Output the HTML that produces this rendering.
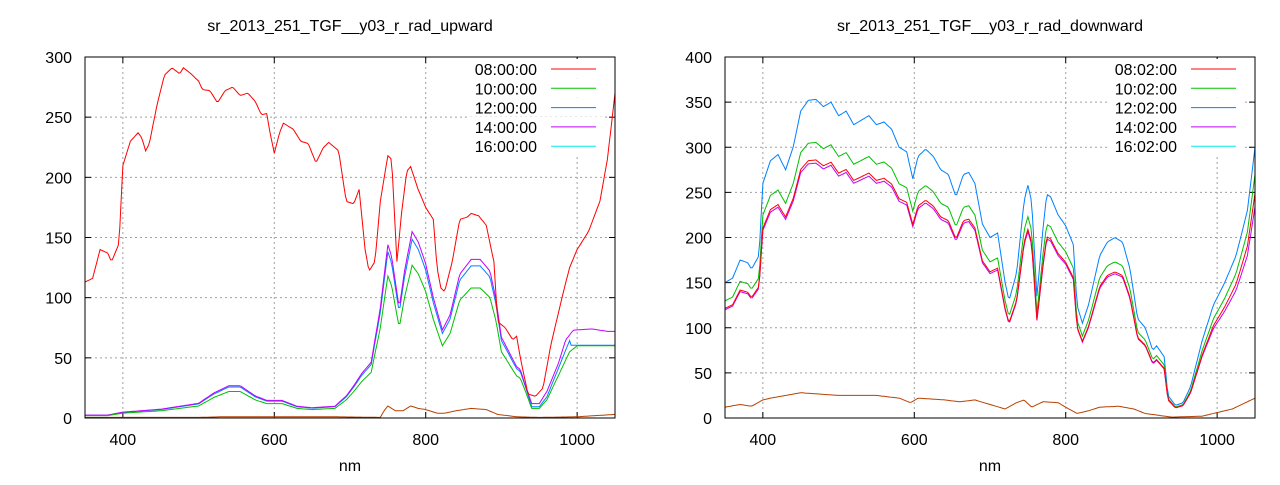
<!DOCTYPE html>
<html><head><meta charset="utf-8"><style>
html,body{margin:0;padding:0;background:#fff}
svg text{font-family:"Liberation Sans",sans-serif;font-size:16px;fill:#000}
</style></head><body>
<svg id="s" width="1280" height="480" xmlns="http://www.w3.org/2000/svg"></svg>
<script>
const S=document.getElementById('s');let h='';
function interp(pts,x){if(x<=pts[0][0])return pts[0][1];for(let i=1;i<pts.length;i++){if(x<=pts[i][0]){const a=pts[i-1],b=pts[i];return a[1]+(b[1]-a[1])*(x-a[0])/(b[0]-a[0]);}}return pts[pts.length-1][1];}
function P(a){const r=[];for(let i=0;i<a.length;i+=2)r.push([a[i],a[i+1]]);return r;}
function plot(x0,x1,y0,y1,ymax,ystep,title,labels,series){
 const sx=v=>x0+(v-350)*(x1-x0)/700, sy=v=>y1-v*(y1-y0)/ymax;
 h+=`<text x="${(x0+x1)/2}" y="31" text-anchor="middle">${title}</text>`;
 h+=`<text x="${(x0+x1)/2}" y="471" text-anchor="middle">nm</text>`;
 for(let v=0;v<=ymax;v+=ystep){const y=sy(v);
  if(v>0&&v<ymax)h+=`<line x1="${x0}" x2="${x1}" y1="${y}" y2="${y}" stroke="#a0a0a0" stroke-dasharray="2,3"/>`;
  h+=`<line x1="${x0}" x2="${x0+6}" y1="${y}" y2="${y}" stroke="#000"/><line x1="${x1-6}" x2="${x1}" y1="${y}" y2="${y}" stroke="#000"/>`;
  h+=`<text x="${x0-13}" y="${y+6}" text-anchor="end">${v}</text>`;}
 for(let v=400;v<=1000;v+=200){const x=sx(v);
  h+=`<line x1="${x}" x2="${x}" y1="${y0}" y2="${y1}" stroke="#a0a0a0" stroke-dasharray="2,3"/>`;
  h+=`<line x1="${x}" x2="${x}" y1="${y1}" y2="${y1-6}" stroke="#000"/><line x1="${x}" x2="${x}" y1="${y0}" y2="${y0+6}" stroke="#000"/>`;
  h+=`<text x="${x}" y="${y1+27}" text-anchor="middle">${v}</text>`;}
 const cols=['#ff0000','#00c000','#0080ff','#c000ff','#00eeee'];
 labels.forEach((l,i)=>{const y=69+i*19.3;h+=`<rect x="${x1-145}" y="${y-10}" width="135" height="19" fill="#fff"/>`;});
 series.forEach(([f,c])=>{let d='';for(let n=350;n<=1050;n+=2){const v=f(n);d+=(n==350?'M':'L')+sx(n).toFixed(1)+','+sy(Math.min(v,ymax)).toFixed(1);}
  h+=`<path d="${d}" fill="none" stroke="${c}" stroke-width="1"/>`;});
 labels.forEach((l,i)=>{const y=69+i*19.3;h+=`<text x="${x1-78}" y="${y+6}" text-anchor="end">${l}</text><line x1="${x1-64}" x2="${x1-19}" y1="${y}" y2="${y}" stroke="${cols[i]}"/>`;});
 h+=`<rect x="${x0}" y="${y0}" width="${x1-x0}" height="${y1-y0}" fill="none" stroke="#000"/>`;
}
const LR=P([350,113,360,116,370,140,380,137,385,130,395,145,400,210,410,230,420,237,425,233,430,222,435,228,445,260,455,285,465,291,475,286,480,291,490,286,500,280,505,273,515,272,525,262,535,272,545,275,555,268,565,270,575,263,583,252,590,253,595,235,600,220,607,237,612,245,625,240,635,230,645,228,655,212,665,225,672,229,685,222,695,180,705,178,712,190,720,140,725,122,733,130,740,180,750,218,755,215,762,130,768,170,775,205,780,209,790,190,800,175,810,165,815,125,820,108,825,105,835,130,845,165,855,167,860,170,870,168,880,160,890,130,895,80,905,75,915,65,920,68,925,50,935,20,945,18,955,25,965,60,980,100,990,125,1000,140,1015,155,1030,180,1040,215,1050,270]);
const LG=P([350,2,380,2,390,3,400,4,450,6,500,10,520,17,540,22,555,22,575,15,590,12,610,12,630,8,650,7,680,8,695,15,705,22,715,30,728,38,740,75,750,118,755,110,765,75,772,100,782,127,790,120,800,105,810,82,822,60,832,70,845,98,860,108,872,108,885,100,893,80,900,55,910,45,920,35,925,33,930,25,940,8,950,8,960,15,975,35,990,55,1000,60,1050,60]);
const LP=P([930,30,940,12,950,12,960,22,975,45,985,65,995,73,1020,74,1040,72,1050,72]);
const LB=P([350,0.5,500,0.5,530,1,680,1,740,0.5,745,6,750,10,760,6,770,6,780,10,790,8,800,7,815,4,825,4,840,6,860,8,880,7,895,3,920,1,950,0.5,1000,1,1050,3]);
const g=n=>interp(LG,n);
plot(85,615,57,418,300,50,'sr_2013_251_TGF__y03_r_rad_upward',['08:00:00','10:00:00','12:00:00','14:00:00','16:00:00'],[
 [n=>interp(LB,n),'#b84000'],
 [n=>n>990?60.5:g(n)*1.17,'#0080ff'],
 [n=>n>=930?interp(LP,n):g(n)*1.22,'#c000ff'],
 [g,'#00c000'],
 [n=>interp(LR,n),'#ff0000']]);
const RB=P([350,150,360,155,370,175,380,172,385,165,395,180,400,260,410,285,420,292,430,275,440,300,450,340,460,352,470,353,480,345,490,350,500,335,510,340,520,325,530,330,540,335,550,325,560,328,570,320,580,300,590,295,598,265,605,290,615,298,625,290,635,275,645,270,655,245,665,270,672,272,680,260,690,215,700,200,710,205,720,150,725,130,735,160,745,240,750,258,755,240,762,135,770,210,775,248,780,245,790,225,800,213,810,192,815,125,822,105,830,125,845,180,855,195,865,200,875,195,885,165,895,110,905,100,915,75,920,80,930,68,935,25,945,14,955,17,965,35,980,85,995,125,1010,150,1025,180,1040,230,1050,300]);
const RW=P([350,12,370,15,385,13,400,20,410,22,430,25,450,28,500,25,550,25,580,22,595,17,605,22,640,20,660,18,680,20,700,15,720,10,735,17,745,20,755,12,770,18,790,17,800,12,815,5,830,8,845,12,870,13,890,10,905,5,940,1,980,2,1020,10,1050,22]);
const b=n=>interp(RB,n);
const mix=(n,f,end)=>{const v=b(n)*f;if(n<960)return v;const t=Math.min(1,(n-960)/90);return v*(1-t)+b(n)*end*t;};
plot(725,1255,57,418,400,50,'sr_2013_251_TGF__y03_r_rad_downward',['08:02:00','10:02:00','12:02:00','14:02:00','16:02:00'],[
 [n=>interp(RW,n),'#b84000'],
 [b,'#0080ff'],
 [n=>mix(n,0.865,0.9),'#00c000'],
 [n=>mix(n,0.8,0.78),'#c000ff'],
 [n=>mix(n,0.81,0.83),'#ff0000']]);
S.innerHTML=h;
</script>
</body></html>
